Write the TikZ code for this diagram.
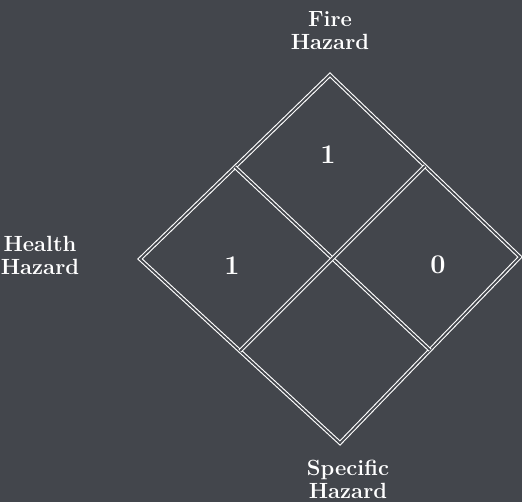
\documentclass[tikz,border=0pt]{standalone}
\usetikzlibrary{calc}
\definecolor{bgcol}{HTML}{43464C}
\begin{document}
\begin{tikzpicture}[x=1pt, y=-1pt,
  rim/.style={draw=white, line width=1.1pt, double=bgcol, double distance=1.8pt, line join=miter},
  label/.style={text=white, font=\fontsize{22}{23}\selectfont\bfseries, align=center, inner sep=0pt},
  rating/.style={text=white, font=\fontsize{27}{28}\selectfont\bfseries, inner sep=0pt}]
\fill[bgcol] (0,0) rectangle (522,502);
\useasboundingbox (0,0) rectangle (522,502);
\coordinate (top) at (330,75);
\coordinate (right) at (520,257);
\coordinate (bottom) at (340,443);
\coordinate (left) at (140,259);
\draw[rim] (top) -- (right) -- (bottom) -- (left) -- cycle;
\draw[rim] ($(top)!0.5!(left)$) -- ($(right)!0.5!(bottom)$);
\draw[rim] ($(top)!0.5!(right)$) -- ($(left)!0.5!(bottom)$);
\node[rating] (fire) at (328,155) {1};
\node[rating] (health) at (232,266) {1};
\node[rating] (react) at (438,265) {0};
\node[label] (firelbl) at (330,31) {Fire\\Hazard};
\node[label] (healthlbl) at (40,255) {Health\\Hazard};
\node[label] (speclbl) at (348,479) {Specific\\Hazard};
\end{tikzpicture}
\end{document}
